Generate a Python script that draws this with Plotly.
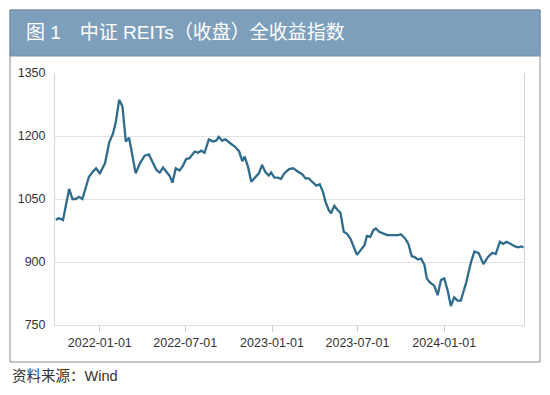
import plotly.graph_objects as go

# ---- data ----
dates = [
    "2021-09-30", "2021-10-05", "2021-10-12", "2021-10-15", "2021-10-28", "2021-11-04",
    "2021-11-11", "2021-11-18", "2021-11-25", "2021-12-09", "2021-12-17", "2021-12-24",
    "2022-01-01", "2022-01-12", "2022-01-21", "2022-01-29", "2022-02-04", "2022-02-11",
    "2022-02-18", "2022-02-25", "2022-03-04", "2022-03-11", "2022-03-18", "2022-03-27",
    "2022-04-06", "2022-04-15", "2022-04-22", "2022-05-01", "2022-05-08", "2022-05-15",
    "2022-05-22", "2022-05-29", "2022-06-04", "2022-06-11", "2022-06-19", "2022-06-26",
    "2022-07-03", "2022-07-10", "2022-07-21", "2022-07-28", "2022-08-04", "2022-08-11",
    "2022-08-20", "2022-08-29", "2022-09-05", "2022-09-10", "2022-09-17", "2022-09-24",
    "2022-10-03", "2022-10-14", "2022-10-23", "2022-10-30", "2022-11-04", "2022-11-11",
    "2022-11-18", "2022-11-27", "2022-12-04", "2022-12-11", "2022-12-18", "2022-12-25",
    "2022-12-30", "2023-01-06", "2023-01-13", "2023-01-20", "2023-01-27", "2023-02-06",
    "2023-02-15", "2023-02-25", "2023-03-06", "2023-03-13", "2023-03-20", "2023-03-28",
    "2023-04-05", "2023-04-12", "2023-04-19", "2023-04-24", "2023-05-01", "2023-05-06",
    "2023-05-13", "2023-05-19", "2023-05-26", "2023-06-02", "2023-06-09", "2023-06-16",
    "2023-06-23", "2023-06-30", "2023-07-09", "2023-07-16", "2023-07-21", "2023-07-28",
    "2023-08-04", "2023-08-09", "2023-08-16", "2023-08-26", "2023-09-02", "2023-09-10",
    "2023-09-19", "2023-09-26", "2023-10-01", "2023-10-10", "2023-10-17", "2023-10-24",
    "2023-10-31", "2023-11-06", "2023-11-13", "2023-11-20", "2023-11-25", "2023-11-30",
    "2023-12-11", "2023-12-18", "2023-12-25", "2024-01-01", "2024-01-08", "2024-01-15",
    "2024-01-22", "2024-01-29", "2024-02-05", "2024-02-16", "2024-02-27", "2024-03-05",
    "2024-03-14", "2024-03-24", "2024-04-02", "2024-04-12", "2024-04-19", "2024-04-28",
    "2024-05-05", "2024-05-12", "2024-05-21", "2024-05-30", "2024-06-06", "2024-06-12",
    "2024-06-17",
]
index_values = [
    1000, 1004, 1002, 1000, 1074, 1050,
    1050, 1055, 1050, 1103, 1115, 1123,
    1111, 1135, 1185, 1206, 1234, 1286,
    1270, 1187, 1196, 1151, 1111, 1135,
    1153, 1156, 1139, 1119, 1113, 1125,
    1115, 1105, 1089, 1123, 1118, 1129,
    1145, 1147, 1163, 1160, 1165, 1160,
    1192, 1187, 1189, 1198, 1189, 1192,
    1184, 1175, 1164, 1140, 1151, 1127,
    1091, 1101, 1111, 1131, 1114, 1106,
    1113, 1101, 1101, 1098, 1111, 1121,
    1123, 1115, 1109, 1099, 1099, 1090,
    1082, 1085, 1067, 1044, 1024, 1016,
    1034, 1025, 1017, 972, 967, 956,
    935, 917, 930, 940, 962, 960,
    976, 980, 972, 968, 964, 964,
    964, 964, 966, 956, 943, 914,
    911, 906, 908, 893, 861, 853,
    843, 821, 857, 861, 833, 795,
    816, 808, 808, 849, 901, 925,
    921, 895, 911, 922, 919, 948,
    943, 948, 943, 937, 935, 937,
    935,
]
y_ticks = [750, 900, 1050, 1200, 1350]
x_ticks = ["2022-01-01", "2022-07-01", "2023-01-01", "2023-07-01", "2024-01-01"]
x_tick_labels = ["2022-01-01", "2022-07-01", "2023-01-01", "2023-07-01", "2024-01-01"]
title_text = "图 1　中证 REITs（收盘）全收益指数"
source_text = "资料来源：Wind"

# ---- layout geometry (pixels) ----
W, H = 550, 395
L, R, T, B = 55, 524, 73, 325


def px(x):
    return (x - L) / (R - L)


def py(y):
    return (B - y) / (B - T)


FONT = "Liberation Sans, Arial, Noto Sans CJK SC, sans-serif"

fig = go.Figure(
    go.Scatter(
        x=dates,
        y=index_values,
        mode="lines",
        line=dict(color="#2e6b8c", width=2.3),
        hoverinfo="x+y",
    )
)

fig.update_layout(
    width=W,
    height=H,
    margin=dict(l=L, r=W - R, t=T, b=H - B, pad=0),
    paper_bgcolor="white",
    plot_bgcolor="white",
    showlegend=False,
    font=dict(family=FONT, size=12, color="#333333"),
    xaxis=dict(
        type="date",
        range=["2021-09-28", "2024-06-18"],
        tickvals=x_ticks,
        ticktext=x_tick_labels,
        ticks="outside",
        ticklen=6,
        tickwidth=1,
        tickcolor="#cccccc",
        showgrid=False,
        showline=True,
        linecolor="#dddddd",
        linewidth=1,
        mirror=False,
        zeroline=False,
        automargin=False,
        tickfont=dict(size=12.5, color="#333333"),
    ),
    yaxis=dict(
        range=[750, 1350],
        tickvals=y_ticks,
        ticks="",
        showgrid=True,
        gridcolor="#e2e2e2",
        gridwidth=1,
        showline=True,
        linecolor="#cdd6de",
        linewidth=1,
        mirror=True,
        zeroline=False,
        automargin=False,
        ticklabelstandoff=6,
        tickfont=dict(size=12.5, color="#333333"),
    ),
    shapes=[
        # outer frame
        dict(type="rect", xref="paper", yref="paper",
             x0=px(10), x1=px(540), y0=py(362), y1=py(10),
             line=dict(color="#8a8a8a", width=1), fillcolor="rgba(0,0,0,0)", layer="below"),
        # title band
        dict(type="rect", xref="paper", yref="paper",
             x0=px(10), x1=px(540), y0=py(56), y1=py(10),
             line=dict(color="#6f8ea8", width=1), fillcolor="#7d9fbc", layer="below"),
    ],
    annotations=[
        dict(text=title_text, xref="paper", yref="paper", x=px(24), y=py(33),
             xanchor="left", yanchor="middle", showarrow=False,
             font=dict(family=FONT, size=19, color="white")),
        dict(text=source_text, xref="paper", yref="paper", x=px(10), y=py(376),
             xanchor="left", yanchor="middle", showarrow=False,
             font=dict(family=FONT, size=14.5, color="#333333")),
    ],
)

fig.write_html(
    "out.html",
    config={"displayModeBar": False},
    post_script="document.body.style.margin='0';document.body.style.padding='0';",
)
